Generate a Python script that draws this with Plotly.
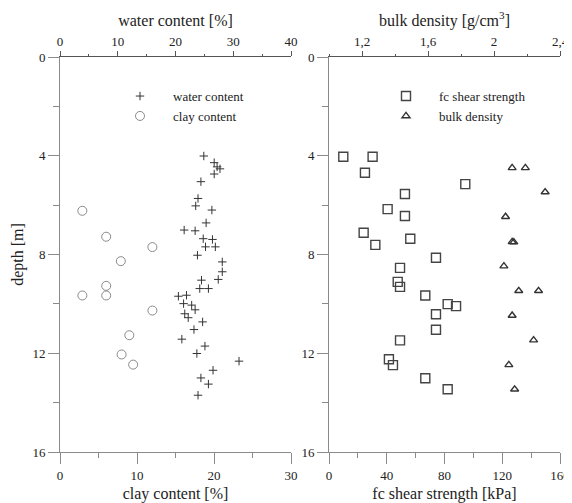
import plotly.graph_objects as go

# ---- data ----
water_depth = [4.01, 4.28, 4.45, 4.53, 4.74, 5.05, 5.73, 6.03, 6.20, 6.72, 7.01, 7.04, 7.36, 7.39,
               7.69, 7.69, 8.03, 8.30, 8.70, 9.01, 9.04, 9.38, 9.38, 9.69, 9.65, 9.99, 10.05, 10.24,
               10.40, 10.56, 10.73, 11.04, 11.43, 11.71, 12.01, 12.32, 12.69, 13.00, 13.25, 13.70]
water_content = [24.9, 26.7, 27.2, 27.7, 26.7, 24.4, 23.9, 23.5, 26.3, 25.3, 21.5, 23.4, 24.8, 26.4,
                 25.2, 26.9, 23.8, 28.1, 28.1, 27.4, 24.5, 24.2, 25.7, 20.5, 21.9, 21.4, 22.8, 23.4,
                 21.6, 22.2, 24.7, 23.2, 21.1, 25.1, 23.7, 31.0, 26.5, 24.4, 25.7, 23.9]

clay_depth = [6.23, 7.28, 7.70, 8.27, 9.27, 9.66, 9.66, 10.27, 11.27, 12.05, 12.46]
clay_content = [2.9, 6.0, 12.0, 7.9, 6.0, 2.9, 6.0, 12.0, 9.0, 8.0, 9.5]

shear_depth = [4.04, 4.04, 4.69, 5.15, 5.55, 6.16, 6.44, 7.12, 7.36, 7.61, 8.13, 8.54, 9.11, 9.31,
               9.66, 10.01, 10.09, 10.42, 11.05, 11.48, 12.24, 12.48, 13.01, 13.46]
shear_strength = [9.9, 30.2, 24.9, 94.4, 52.6, 40.6, 52.6, 24.0, 56.3, 32.1, 74.1, 49.2, 47.6, 49.2,
                  66.7, 82.2, 88.0, 74.1, 74.1, 49.2, 41.5, 44.3, 66.7, 82.2]

bulk_depth = [4.49, 4.49, 5.47, 6.47, 7.49, 7.50, 8.47, 9.47, 9.47, 10.47, 11.47, 12.47, 13.46]
bulk_density = [2.11, 2.19, 2.31, 2.07, 2.11, 2.12, 2.06, 2.15, 2.27, 2.11, 2.24, 2.09, 2.125]

bulk_tickvals = [1.2, 1.6, 2.0, 2.4]
bulk_ticktext = ["1,2", "1,6", "2", "2,4"]

FONT = "Liberation Serif, Times New Roman, Times, serif"
TXT = "#222222"
AX = "#8a8a8a"
TOPAX = "#555555"

fig = go.Figure()

fig.add_trace(go.Scatter(x=water_content, y=water_depth, mode="markers", name="water content",
                         xaxis="x2", yaxis="y", legend="legend",
                         marker=dict(symbol="cross-thin-open", size=6, color="#333333",
                                     line=dict(width=1, color="#333333"))))
fig.add_trace(go.Scatter(x=clay_content, y=clay_depth, mode="markers", name="clay content",
                         xaxis="x", yaxis="y", legend="legend",
                         marker=dict(symbol="circle-open", size=9, color="#8a8a8a",
                                     line=dict(width=1, color="#8a8a8a"))))
fig.add_trace(go.Scatter(x=shear_strength, y=shear_depth, mode="markers", name="fc shear strength",
                         xaxis="x3", yaxis="y2", legend="legend2",
                         marker=dict(symbol="square-open", size=9, color="#444444",
                                     line=dict(width=1.4, color="#444444"))))
fig.add_trace(go.Scatter(x=bulk_density, y=bulk_depth, mode="markers", name="bulk density",
                         xaxis="x4", yaxis="y2", legend="legend2",
                         marker=dict(symbol="triangle-up-open", size=7, color="#333333",
                                     line=dict(width=1.4, color="#333333"))))

tickfont = dict(family=FONT, size=13, color=TXT)
titlefont = dict(family=FONT, size=16, color=TXT)

L = [0, 231 / 500]
R = [269 / 500, 1]

def bottom_axis(dom, rng, dtick, mdtick, title, anchor):
    return dict(domain=dom, range=rng, anchor=anchor, side="bottom", automargin=False,
                showline=True, linecolor=AX, linewidth=1, showgrid=False, zeroline=False,
                ticks="outside", ticklen=11, tickcolor=AX, tickwidth=1,
                tickmode="linear", tick0=0, dtick=dtick,
                minor=dict(ticks="outside", ticklen=5, tickcolor=AX, dtick=mdtick, tick0=0, showgrid=False),
                tickfont=tickfont, title=dict(text=title, font=titlefont, standoff=7))

def top_axis(over, rng, title, anchor, **kw):
    d = dict(overlaying=over, range=rng, anchor=anchor, side="top", automargin=False,
             showline=True, linecolor=TOPAX, linewidth=1, showgrid=False, zeroline=False,
             ticks="outside", ticklen=5, tickcolor=TOPAX, tickwidth=1,
             tickfont=tickfont, title=dict(text=title, font=titlefont, standoff=3))
    d.update(kw)
    return d

def top_inside(over, rng, anchor, **kw):
    d = dict(overlaying=over, range=rng, anchor=anchor, side="top", automargin=False,
             showline=False, showgrid=False, zeroline=False, showticklabels=False,
             ticks="inside", ticklen=7, tickcolor=TOPAX, tickwidth=1)
    d.update(kw)
    return d

def depth_axis(anchor, title=None):
    d = dict(domain=[0, 1], range=[16, 0], anchor=anchor, automargin=False,
             showline=True, linecolor=AX, linewidth=1, showgrid=False, zeroline=False,
             ticks="outside", ticklen=11, tickcolor=AX, tickwidth=1,
             tickmode="linear", tick0=0, dtick=4,
             minor=dict(ticks="outside", ticklen=6, tickcolor=AX, dtick=2, tick0=0, showgrid=False),
             tickfont=tickfont)
    if title:
        d["title"] = dict(text=title, font=titlefont, standoff=4)
    return d

# page has an 8px body margin, so the figure is drawn 8px in from the window edge
fig.update_layout(
    width=564, height=495,
    margin=dict(l=52, r=12, t=49, b=51),
    paper_bgcolor="white", plot_bgcolor="white",
    font=dict(family=FONT, size=13, color=TXT),
    xaxis=bottom_axis(L, [0, 30], 10, 5, "clay content [%]", "y"),
    xaxis2=top_axis("x", [0, 40], "water content [%]", "y",
                    tickmode="linear", tick0=0, dtick=10,
                    minor=dict(ticks="outside", ticklen=2, tickcolor=TOPAX, dtick=5, tick0=0)),
    xaxis3=bottom_axis(R, [0, 160], 40, 20, "fc shear strength [kPa]", "y2"),
    xaxis4=top_axis("x3", [1.0, 2.4], "bulk density [g/cm<sup>3</sup>]", "y2",
                    tickmode="array", tickvals=bulk_tickvals, ticktext=bulk_ticktext,
                    minor=dict(ticks="outside", ticklen=2, tickcolor=TOPAX, tickmode="linear",
                               tick0=1.0, dtick=0.2)),
    xaxis5=top_inside("x", [0, 40], "y", tickmode="linear", tick0=0, dtick=10,
                      minor=dict(ticks="inside", ticklen=4, tickcolor=TOPAX, dtick=5, tick0=0)),
    xaxis6=top_inside("x3", [1.0, 2.4], "y2", tickmode="array", tickvals=bulk_tickvals,
                      minor=dict(ticks="inside", ticklen=4, tickcolor=TOPAX, tickmode="linear",
                                 tick0=1.0, dtick=0.2)),
    yaxis=depth_axis("x", "depth [m]"),
    yaxis2=depth_axis("x3"),
    legend=dict(x=0.094, y=0.939, xanchor="left", yanchor="top", bgcolor="rgba(0,0,0,0)",
                font=dict(family=FONT, size=13, color=TXT), itemwidth=56, tracegroupgap=0),
    legend2=dict(x=0.626, y=0.939, xanchor="left", yanchor="top", bgcolor="rgba(0,0,0,0)",
                 font=dict(family=FONT, size=13, color=TXT), itemwidth=56, tracegroupgap=0),
)

fig.write_html("out.html")
